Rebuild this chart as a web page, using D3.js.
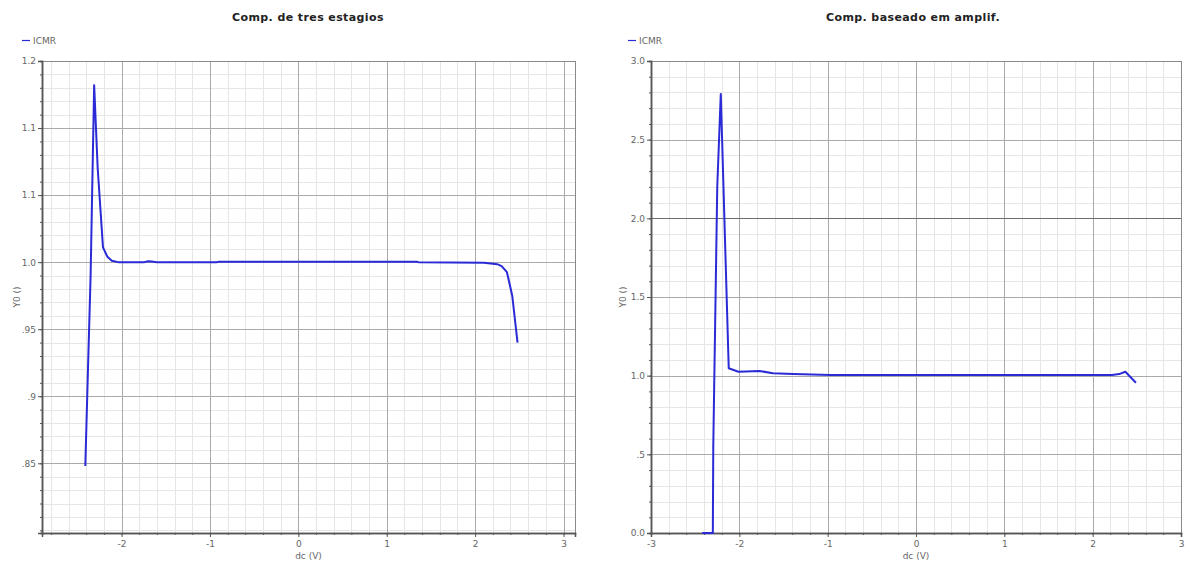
<!DOCTYPE html>
<html>
<head>
<meta charset="utf-8">
<script src="https://cdn.jsdelivr.net/npm/d3@7"></script>
<style>
  html, body { margin: 0; padding: 0; background: #fff; }
  svg { display: block; font-family: "DejaVu Sans", sans-serif; }
</style>
</head>
<body>
<svg id="chart" width="1192" height="564"></svg>
<script>
// ---------- data ----------
const seriesName = "ICMR";

const leftTitle = "Comp. de tres estagios";
const leftX = [-2.41, -2.38, -2.35, -2.31, -2.27, -2.21, -2.16, -2.11, -2.04, -1.74, -1.70, -1.66, -1.60, -0.92, -0.90, 1.34, 1.36, 2.10, 2.25, 2.30, 2.36, 2.42, 2.48];
const leftY = [0.848, 0.92, 0.99, 1.132, 1.07, 1.011, 1.004, 1.001, 1.0, 1.0, 1.0006, 1.0005, 1.0, 1.0, 1.0003, 1.0003, 1.0, 0.9995, 0.9985, 0.997, 0.9925, 0.975, 0.94];
const leftXTicks = [-2, -1, 0, 1, 2, 3];
const leftXTickLabels = ["-2", "-1", "0", "1", "2", "3"];
const leftYTicks = [1.15, 1.10, 1.05, 1.0, 0.95, 0.90, 0.85];
const leftYTickLabels = ["1.2", "1.1", "1.1", "1.0", ".95", ".9", ".85"];

const rightTitle = "Comp. baseado em amplif.";
const rightX = [-2.42, -2.30, -2.295, -2.25, -2.21, -2.12, -2.01, -1.77, -1.62, -1.39, -0.97, 2.22, 2.30, 2.37, 2.49];
const rightY = [0, 0, 0.55, 2.2, 2.79, 1.047, 1.025, 1.03, 1.015, 1.01, 1.005, 1.004, 1.01, 1.025, 0.955];
const rightXTicks = [-3, -2, -1, 0, 1, 2, 3];
const rightXTickLabels = ["-3", "-2", "-1", "0", "1", "2", "3"];
const rightYTicks = [3.0, 2.5, 2.0, 1.5, 1.0, 0.5, 0.0];
const rightYTickLabels = ["3.0", "2.5", "2.0", "1.5", "1.0", ".5", "0.0"];
const rightDarkY = [2.0];

const xLabel = "dc (V)";
const yLabel = "Y0 ()";

// ---------- drawing ----------
const svg = d3.select("#chart");
const lineColor = "#2a2ad6";

function drawChart(cfg) {
  const g = svg.append("g");
  const x = d3.scaleLinear().domain(cfg.xDomain).range([cfg.left, cfg.right]);
  const y = d3.scaleLinear().domain(cfg.yDomain).range([cfg.bottom, cfg.top]);

  // minor grid
  const xMinor = d3.range(Math.ceil(cfg.xDomain[0] / cfg.xMinorStep), Math.floor(cfg.xDomain[1] / cfg.xMinorStep) + 1).map(i => +(i * cfg.xMinorStep).toFixed(4));
  const yMinor = d3.range(Math.ceil(cfg.yDomain[0] / cfg.yMinorStep - 1e-6), Math.floor(cfg.yDomain[1] / cfg.yMinorStep + 1e-6) + 1).map(i => +(i * cfg.yMinorStep).toFixed(4));

  g.append("g").selectAll("line").data(xMinor).join("line")
    .attr("x1", d => Math.round(x(d)) + 0.5).attr("x2", d => Math.round(x(d)) + 0.5)
    .attr("y1", cfg.top).attr("y2", cfg.bottom)
    .attr("stroke", "#e6e6e6").attr("stroke-width", 1);
  g.append("g").selectAll("line").data(yMinor).join("line")
    .attr("y1", d => Math.round(y(d)) + 0.5).attr("y2", d => Math.round(y(d)) + 0.5)
    .attr("x1", cfg.left).attr("x2", cfg.right)
    .attr("stroke", "#e6e6e6").attr("stroke-width", 1);

  // major grid
  g.append("g").selectAll("line").data(cfg.xTicks).join("line")
    .attr("x1", d => Math.round(x(d)) + 0.5).attr("x2", d => Math.round(x(d)) + 0.5)
    .attr("y1", cfg.top).attr("y2", cfg.bottom)
    .attr("stroke", "#a9a9a9").attr("stroke-width", 1);
  g.append("g").selectAll("line").data(cfg.yTicks).join("line")
    .attr("y1", d => Math.round(y(d)) + 0.5).attr("y2", d => Math.round(y(d)) + 0.5)
    .attr("x1", cfg.left).attr("x2", cfg.right)
    .attr("stroke", d => (cfg.darkY || []).includes(d) ? "#6e6e6e" : "#a9a9a9").attr("stroke-width", 1);

  // frame (top/right)
  g.append("rect").attr("x", cfg.left + 0.5).attr("y", cfg.top + 0.5)
    .attr("width", cfg.right - cfg.left).attr("height", cfg.bottom - cfg.top)
    .attr("fill", "none").attr("stroke", "#8a8a8a");

  // axes
  const xAxis = d3.axisBottom(x).tickValues(cfg.xTicks)
    .tickFormat((d, i) => cfg.xTickLabels[i]).tickSize(4).tickPadding(4);
  const xAxisMinor = d3.axisBottom(x).tickValues(xMinor).tickFormat("").tickSize(2);
  const yAxis = d3.axisLeft(y).tickValues(cfg.yTicks)
    .tickFormat((d, i) => cfg.yTickLabels[i]).tickSize(4).tickPadding(2);
  const yAxisMinor = d3.axisLeft(y).tickValues(yMinor).tickFormat("").tickSize(2);

  const styleAxis = sel => {
    sel.select(".domain").attr("stroke", "#555").attr("stroke-width", 1.5);
    sel.selectAll(".tick line").attr("stroke", "#555");
    sel.selectAll("text").attr("fill", "#666").attr("font-size", 9)
      .attr("font-family", "DejaVu Sans, sans-serif");
  };
  g.append("g").attr("transform", `translate(0,${cfg.bottom})`).call(xAxisMinor).call(styleAxis);
  g.append("g").attr("transform", `translate(0,${cfg.bottom})`).call(xAxis).call(styleAxis);
  g.append("g").attr("transform", `translate(${cfg.left},0)`).call(yAxisMinor).call(styleAxis);
  g.append("g").attr("transform", `translate(${cfg.left},0)`).call(yAxis).call(styleAxis);

  // series line
  const pts = cfg.xs.map((v, i) => [v, cfg.ys[i]]);
  g.append("path").datum(pts)
    .attr("d", d3.line().x(d => x(d[0])).y(d => y(d[1])))
    .attr("fill", "none").attr("stroke", lineColor).attr("stroke-width", 2)
    .attr("stroke-linejoin", "round");

  // title
  g.append("text").attr("x", cfg.titleX).attr("y", 21).attr("text-anchor", "middle")
    .attr("font-size", 11).attr("font-weight", "bold").attr("fill", "#222")
    .attr("letter-spacing", 0.4).text(cfg.title);

  // legend
  g.append("line").attr("x1", cfg.legendX).attr("x2", cfg.legendX + 8)
    .attr("y1", 40.5).attr("y2", 40.5).attr("stroke", lineColor).attr("stroke-width", 1.2);
  g.append("text").attr("x", cfg.legendX + 11).attr("y", 43.5)
    .attr("font-size", 9).attr("fill", "#666").text(seriesName);

  // axis labels
  g.append("text").attr("x", (cfg.left + cfg.right) / 2).attr("y", 559)
    .attr("text-anchor", "middle").attr("font-size", 9).attr("fill", "#666").text(xLabel);
  g.append("text").attr("transform", `translate(${cfg.left - cfg.yLabelOffset},297) rotate(-90)`)
    .attr("text-anchor", "middle").attr("font-size", 9).attr("fill", "#666").text(yLabel);
}

drawChart({
  title: leftTitle, titleX: 308, legendX: 22,
  xs: leftX, ys: leftY,
  xDomain: [-2.9, 3.13], yDomain: [0.798, 1.15],
  left: 42, right: 575, top: 61, bottom: 533,
  xTicks: leftXTicks, xTickLabels: leftXTickLabels,
  yTicks: leftYTicks, yTickLabels: leftYTickLabels,
  xMinorStep: 0.2, yMinorStep: 0.01, yLabelOffset: 22
});

drawChart({
  title: rightTitle, titleX: 913, legendX: 628,
  xs: rightX, ys: rightY,
  xDomain: [-3, 3], yDomain: [0, 3],
  left: 651, right: 1181, top: 61, bottom: 533,
  xTicks: rightXTicks, xTickLabels: rightXTickLabels,
  yTicks: rightYTicks, yTickLabels: rightYTickLabels, darkY: rightDarkY,
  xMinorStep: 0.2, yMinorStep: 0.1, yLabelOffset: 25
});
</script>
</body>
</html>
